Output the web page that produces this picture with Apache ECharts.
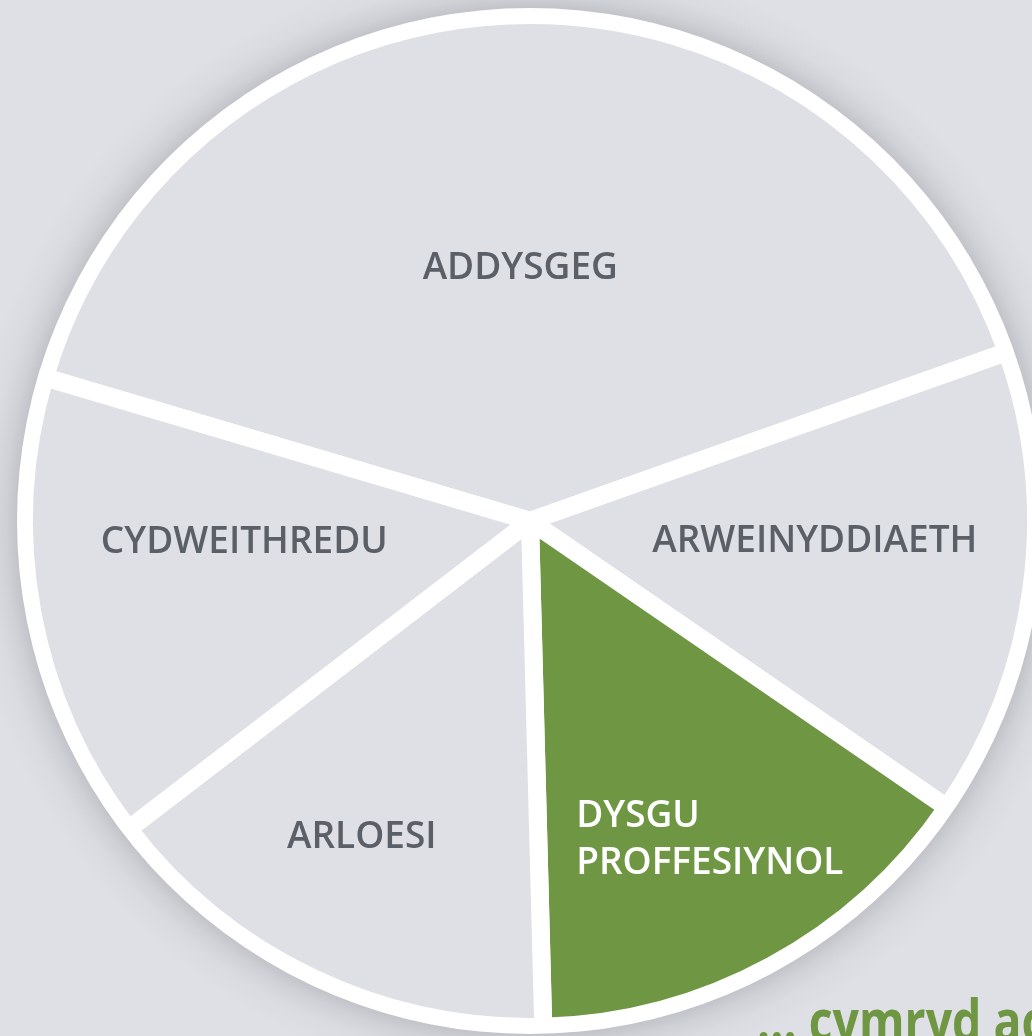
<!DOCTYPE html>
<html>
<head>
<meta charset="utf-8">
<style>
  html, body { margin: 0; padding: 0; background: #dfe0e5; }
  #chart { width: 1032px; height: 1036px; }
</style>
<script src="https://cdn.jsdelivr.net/npm/echarts@6/dist/echarts.min.js"></script>
</head>
<body>
<div id="chart"></div>
<script>
// ---- data ----
const categories = ['ADDYSGEG', 'ARWEINYDDIAETH', 'DYSGU\nPROFFESIYNOL', 'ARLOESI', 'CYDWEITHREDU'];
const values = [40, 15, 15, 15, 15];
const highlighted = [false, false, true, false, false];
const footerText = '... cymryd ac';

// ---- styles (kept separate from data) ----
const bgColor = '#dfe0e5';
const grayFill = '#dfe0e5';
const greenFill = '#6f9743';
const grayText = '#5b5f67';
const labelOffsets = [[-3, 3], [31, -13], [55, 94], [-58, 85], [-34, -25]];

const chart = echarts.init(document.getElementById('chart'), null, { renderer: 'canvas' });

const pieData = categories.map((name, i) => {
  const item = {
    name: name,
    value: values[i],
    itemStyle: { color: highlighted[i] ? greenFill : grayFill },
    label: {
      color: highlighted[i] ? '#ffffff' : grayText,
      offset: labelOffsets[i]
    }
  };
  if (highlighted[i]) {
    item.label.formatter = function (p) {
      return p.name.split('\n').map(s => '{l|' + s + '}').join('\n');
    };
    item.label.rich = {
      l: {
        width: 262,
        align: 'left',
        lineHeight: 47,
        color: '#ffffff',
        fontFamily: 'Open Sans',
        fontWeight: 600,
        fontSize: 37
      }
    };
  }
  return item;
});

const total = values.reduce((a, b) => a + b, 0);
const C = [530, 521];
const outerEdge = 513;
const shadowOuter = 565;

chart.setOption({
  backgroundColor: bgColor,
  animation: false,
  series: [
    {
      type: 'pie',
      silent: true,
      z: 1,
      center: C,
      radius: [0, outerEdge],
      label: { show: false },
      labelLine: { show: false },
      emphasis: { disabled: true },
      itemStyle: { color: '#ffffff' },
      data: [{ name: 'bg', value: total }]
    },
    {
      type: 'pie',
      silent: true,
      z: 2,
      center: C,
      radius: [0, 506],
      startAngle: 163.5,
      clockwise: true,
      emphasis: { disabled: true },
      itemStyle: { borderColor: '#ffffff', borderWidth: 18 },
      label: {
        show: true,
        position: 'inside',
        fontFamily: 'Open Sans',
        fontWeight: 600,
        fontSize: 37,
        formatter: '{b}'
      },
      labelLine: { show: false },
      data: pieData
    },
    {
      type: 'pie',
      silent: true,
      z: 3,
      center: C,
      radius: [outerEdge, shadowOuter],
      label: { show: false },
      labelLine: { show: false },
      emphasis: { disabled: true },
      itemStyle: {
        borderWidth: 0,
        color: {
          type: 'radial',
          x: 0.5, y: 0.5, r: 0.5,
          colorStops: [
            { offset: 0, color: '#c3c4c9' },
            { offset: outerEdge / shadowOuter, color: '#c3c4c9' },
            { offset: (outerEdge + 12) / shadowOuter, color: '#d0d1d6' },
            { offset: (outerEdge + 28) / shadowOuter, color: '#dadbe0' },
            { offset: 1, color: bgColor }
          ]
        }
      },
      data: [{ name: 'shadow', value: total }]
    }
  ],
  graphic: [
    {
      type: 'text',
      x: 757,
      y: 1024,
      scaleX: 0.8,
      z: 10,
      style: {
        text: footerText,
        fontFamily: 'Open Sans',
        fontWeight: 'bold',
        fontSize: 58,
        fill: greenFill,
        verticalAlign: 'middle'
      }
    }
  ]
});
</script>
</body>
</html>
